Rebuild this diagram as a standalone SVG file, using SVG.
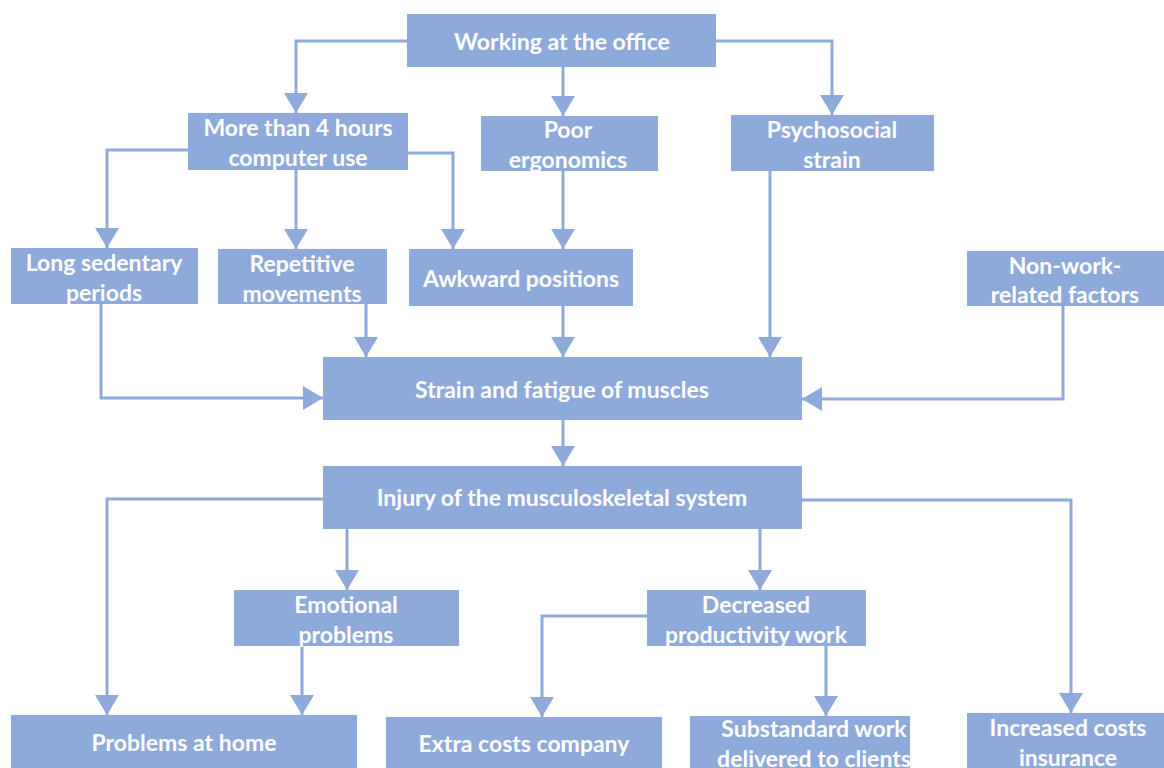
<svg xmlns="http://www.w3.org/2000/svg" width="1164" height="768" viewBox="0 0 1164 768">
<style>
.box{fill:#8eaadb}
.t{font-family:Lato,"Open Sans","Liberation Sans",sans-serif;font-weight:bold;font-size:23px;fill:#ffffff;text-anchor:middle}
.c{fill:none;stroke:#8eaadb;stroke-width:3}
</style>
<defs>
<marker id="ah" markerUnits="userSpaceOnUse" markerWidth="24" markerHeight="24" viewBox="0 0 20 24" refX="20" refY="12" orient="auto">
<path d="M0,0 L20,12 L0,24 Z" fill="#8eaadb"/>
</marker>
</defs>
<rect width="1164" height="768" fill="#ffffff"/>
<g id="connectors">
<path class="c" d="M407,41 H296 V113" marker-end="url(#ah)"/>
<path class="c" d="M563,67 V116" marker-end="url(#ah)"/>
<path class="c" d="M716,41 H832 V115" marker-end="url(#ah)"/>
<path class="c" d="M188,150 H107 V248" marker-end="url(#ah)"/>
<path class="c" d="M296,170 V249" marker-end="url(#ah)"/>
<path class="c" d="M408,153 H453 V249" marker-end="url(#ah)"/>
<path class="c" d="M563,171 V249" marker-end="url(#ah)"/>
<path class="c" d="M563,306 V357" marker-end="url(#ah)"/>
<path class="c" d="M770,171 V357" marker-end="url(#ah)"/>
<path class="c" d="M101,304 V398 H323" marker-end="url(#ah)"/>
<path class="c" d="M366,304 V357" marker-end="url(#ah)"/>
<path class="c" d="M1063,306 V399 H802" marker-end="url(#ah)"/>
<path class="c" d="M563,420 V466" marker-end="url(#ah)"/>
<path class="c" d="M323,499 H107 V715" marker-end="url(#ah)"/>
<path class="c" d="M347,529 V590" marker-end="url(#ah)"/>
<path class="c" d="M302,646 V715" marker-end="url(#ah)"/>
<path class="c" d="M760,529 V590" marker-end="url(#ah)"/>
<path class="c" d="M802,500 H1071 V713" marker-end="url(#ah)"/>
<path class="c" d="M647,616 H542 V717" marker-end="url(#ah)"/>
<path class="c" d="M826,646 V716" marker-end="url(#ah)"/>
</g>
<g id="n-office"><rect class="box" x="407" y="14" width="309" height="53"/><text class="t" x="562" y="50">Working at the office</text></g>
<g id="n-computer"><rect class="box" x="188" y="113" width="220" height="57"/><text class="t" x="298" y="136">More than 4 hours</text><text class="t" x="298" y="166">computer use</text></g>
<g id="n-ergonomics"><rect class="box" x="481" y="116" width="177" height="55"/><text class="t" x="568" y="138">Poor</text><text class="t" x="568" y="168">ergonomics</text></g>
<g id="n-psycho"><rect class="box" x="731" y="115" width="203" height="56"/><text class="t" x="832" y="138">Psychosocial</text><text class="t" x="832" y="168">strain</text></g>
<g id="n-sedentary"><rect class="box" x="11" y="248" width="187" height="56"/><text class="t" x="104" y="271">Long sedentary</text><text class="t" x="104" y="301">periods</text></g>
<g id="n-repetitive"><rect class="box" x="218" y="249" width="169" height="55"/><text class="t" x="302" y="272">Repetitive</text><text class="t" x="302" y="302">movements</text></g>
<g id="n-awkward"><rect class="box" x="409" y="249" width="224" height="57"/><text class="t" x="521" y="287">Awkward positions</text></g>
<g id="n-nonwork"><rect class="box" x="967" y="251" width="197" height="55"/><text class="t" x="1065" y="274">Non-work-</text><text class="t" x="1065" y="303">related factors</text></g>
<g id="n-strain"><rect class="box" x="323" y="357" width="479" height="63"/><text class="t" x="562" y="398">Strain and fatigue of muscles</text></g>
<g id="n-injury"><rect class="box" x="323" y="466" width="479" height="63"/><text class="t" x="562" y="506">Injury of the musculoskeletal system</text></g>
<g id="n-emotional"><rect class="box" x="234" y="590" width="225" height="56"/><text class="t" x="346" y="613">Emotional</text><text class="t" x="346" y="643">problems</text></g>
<g id="n-decreased"><rect class="box" x="647" y="590" width="219" height="56"/><text class="t" x="756" y="613">Decreased</text><text class="t" x="756" y="643">productivity work</text></g>
<g id="n-home"><rect class="box" x="11" y="715" width="346" height="60"/><text class="t" x="184" y="751">Problems at home</text></g>
<g id="n-extra"><rect class="box" x="386" y="717" width="276" height="58"/><text class="t" x="524" y="752">Extra costs company</text></g>
<g id="n-substandard"><rect class="box" x="690" y="716" width="220" height="59"/><text class="t" x="814" y="737">Substandard work</text><text class="t" x="814" y="767">delivered to clients</text></g>
<g id="n-insurance"><rect class="box" x="967" y="713" width="197" height="62"/><text class="t" x="1068" y="736">Increased costs</text><text class="t" x="1068" y="766">insurance</text></g>
</svg>
